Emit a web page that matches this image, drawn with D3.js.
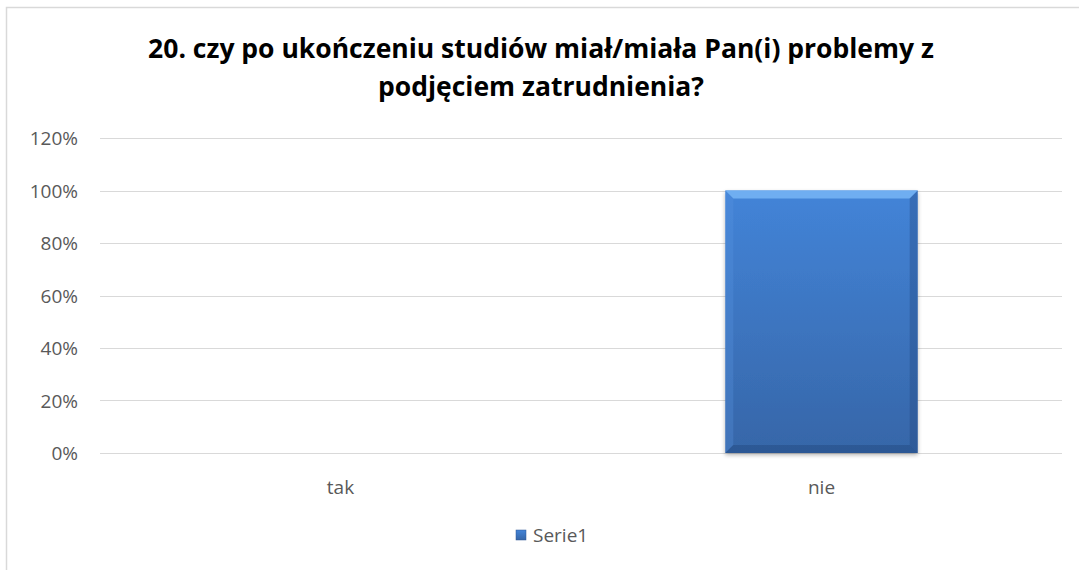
<!DOCTYPE html>
<html>
<head>
<meta charset="utf-8">
<script src="https://cdn.jsdelivr.net/npm/d3@7"></script>
<style>
  body { margin: 0; background: #fff; }
  svg { display: block; font-family: "Open Sans", "Liberation Sans", sans-serif; }
</style>
</head>
<body>
<svg width="1079" height="570"></svg>
<script>
// chart data
let categories = ['tak', 'nie'];
let values     = [0, 1.0];
let yTicks     = [0, 0.2, 0.4, 0.6, 0.8, 1.0, 1.2];
let seriesName = 'Serie1';
let titleLines = ['20. czy po ukończeniu studiów miał/miała Pan(i) problemy z', 'podjęciem zatrudnienia?'];

let svg = d3.select('svg');

// outer chart frame (runs off the right and bottom of the picture)
svg.append('rect')
    .attr('x', 6.5).attr('y', 7.5)
    .attr('width', 1100).attr('height', 600)
    .attr('fill', 'none')
    .attr('stroke', '#d9d9d9')
    .attr('stroke-width', 1.5);

let plot = { left: 100, right: 1062, top: 138, bottom: 453 };

let x = d3.scaleBand()
    .domain(categories)
    .range([plot.left, plot.right])
    .padding(0);

let y = d3.scaleLinear()
    .domain([0, 1.2])
    .range([plot.bottom, plot.top]);

// gridlines
svg.append('g')
    .selectAll('line')
    .data(yTicks)
    .enter()
    .append('line')
    .attr('x1', plot.left).attr('x2', plot.right)
    .attr('y1', d => Math.round(y(d)) + 0.5)
    .attr('y2', d => Math.round(y(d)) + 0.5)
    .attr('stroke', '#d9d9d9')
    .attr('stroke-width', 1);

// y axis labels
svg.append('g')
    .selectAll('text')
    .data(yTicks)
    .enter()
    .append('text')
    .attr('x', 78)
    .attr('y', d => y(d) + 7)
    .attr('text-anchor', 'end')
    .attr('font-size', 19)
    .attr('fill', '#595959')
    .text(d => d3.format('.0%')(d));

// x axis labels
svg.append('g')
    .selectAll('text')
    .data(categories)
    .enter()
    .append('text')
    .attr('x', d => x(d) + x.bandwidth() / 2)
    .attr('y', 494)
    .attr('text-anchor', 'middle')
    .attr('font-size', 19)
    .attr('fill', '#595959')
    .text(d => d);

// gradients for the bevelled bar
let defs = svg.append('defs');
let grad = defs.append('linearGradient')
    .attr('id', 'barFill')
    .attr('x1', 0).attr('y1', 0).attr('x2', 0).attr('y2', 1);
grad.append('stop').attr('offset', '0%').attr('stop-color', '#4384d8');
grad.append('stop').attr('offset', '100%').attr('stop-color', '#3666a8');

let shadow = defs.append('filter').attr('id', 'shadow')
    .attr('x', '-10%').attr('y', '-10%').attr('width', '120%').attr('height', '120%');
shadow.append('feGaussianBlur').attr('in', 'SourceAlpha').attr('stdDeviation', 2);
shadow.append('feOffset').attr('dx', 0).attr('dy', 2).attr('result', 'off');
shadow.append('feComponentTransfer').append('feFuncA').attr('type', 'linear').attr('slope', 0.3);
let merge = shadow.append('feMerge');
merge.append('feMergeNode');
merge.append('feMergeNode').attr('in', 'SourceGraphic');

// gap width 150% like the office chart
let barW = x.bandwidth() / 2.5;
let bev = 8;

let bars = svg.append('g')
    .selectAll('g')
    .data(categories.map((c, i) => ({ cat: c, value: values[i] })).filter(d => d.value > 0))
    .enter()
    .append('g');

bars.each(function (d) {
    let g = d3.select(this);
    let x0 = x(d.cat) + (x.bandwidth() - barW) / 2;
    let x1 = x0 + barW;
    let y0 = y(d.value);
    let y1 = y(0);

    g.append('rect')
        .attr('x', x0).attr('y', y0)
        .attr('width', barW).attr('height', y1 - y0)
        .attr('fill', 'url(#barFill)')
        .attr('filter', 'url(#shadow)');

    let b = Math.min(bev, (y1 - y0) / 2);
    let faces = [
        { pts: [[x0, y0], [x1, y0], [x1 - b, y0 + b], [x0 + b, y0 + b]], fill: '#72b0f2', op: 0.95 },
        { pts: [[x0, y0], [x0 + b, y0 + b], [x0 + b, y1 - b], [x0, y1]], fill: '#5a96e0', op: 0.3 },
        { pts: [[x1, y0], [x1, y1], [x1 - b, y1 - b], [x1 - b, y0 + b]], fill: '#22467c', op: 0.35 },
        { pts: [[x0, y1], [x0 + b, y1 - b], [x1 - b, y1 - b], [x1, y1]], fill: '#244a82', op: 0.5 }
    ];
    g.selectAll('polygon')
        .data(faces)
        .enter()
        .append('polygon')
        .attr('points', f => f.pts.map(p => p.join(',')).join(' '))
        .attr('fill', f => f.fill)
        .attr('opacity', f => f.op);
});

// title
svg.append('g')
    .selectAll('text')
    .data(titleLines)
    .enter()
    .append('text')
    .attr('x', 541)
    .attr('y', (d, i) => 58 + i * 38)
    .attr('text-anchor', 'middle')
    .attr('font-size', 26.5)
    .attr('font-weight', 'bold')
    .attr('fill', '#000')
    .text(d => d);

// legend
let legend = svg.append('g').attr('transform', 'translate(516, 530)');
legend.append('rect')
    .attr('width', 10).attr('height', 10)
    .attr('fill', 'url(#barFill)')
    .attr('stroke', '#2d5592').attr('stroke-width', 0.5);
legend.append('text')
    .attr('x', 17)
    .attr('y', 12)
    .attr('font-size', 19)
    .attr('fill', '#595959')
    .text(seriesName);
</script>
</body>
</html>
